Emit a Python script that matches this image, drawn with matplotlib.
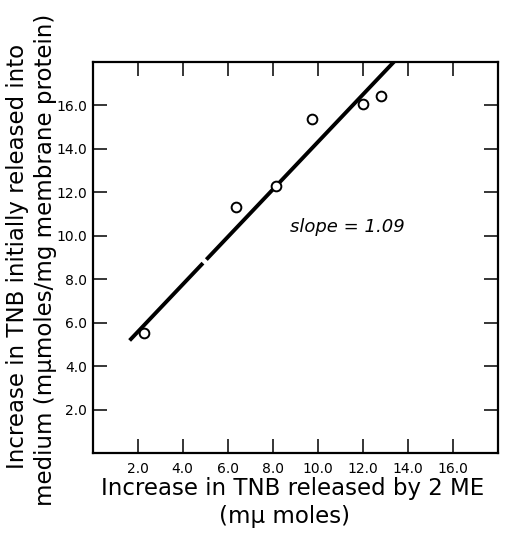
import matplotlib
matplotlib.use("Agg")
import matplotlib.pyplot as plt

# Data
tnb_2me = [2.3, 6.35, 8.15, 9.75, 12.0, 12.8]
tnb_medium = [5.55, 11.3, 12.3, 15.35, 16.05, 16.4]

# fitted line (slope = 1.09), drawn in two pieces because of the small print gap
slope = 1.09
intercept = 3.40
fit_pieces = [(1.64, 4.9), (5.05, 13.4)]

ticks = [2.0, 4.0, 6.0, 8.0, 10.0, 12.0, 14.0, 16.0]
tick_labels = ["2.0", "4.0", "6.0", "8.0", "10.0", "12.0", "14.0", "16.0"]

fig = plt.figure(figsize=(5.08, 5.43), dpi=100)
ax = fig.add_axes([0.1825, 0.1652, 0.7972, 0.7212])

for x0, x1 in fit_pieces:
    ax.plot([x0, x1], [slope * x0 + intercept, slope * x1 + intercept],
            color="black", linewidth=2.8, solid_capstyle="butt")

ax.plot(tnb_2me, tnb_medium, linestyle="none", marker="o", markersize=7,
        markerfacecolor="white", markeredgecolor="black", markeredgewidth=1.4, zorder=3)

ax.text(11.3, 10.4, "slope = 1.09", fontsize=13, style="italic", ha="center", va="center")

ax.set_xlim(0, 18)
ax.set_ylim(0, 18)
ax.set_xticks(ticks)
ax.set_xticklabels(tick_labels)
ax.set_yticks(ticks)
ax.set_yticklabels(tick_labels)
ax.tick_params(direction="in", length=10, width=1.1, labelsize=10,
               top=True, right=True, pad=6)
ax.tick_params(axis="y", pad=4)
for s in ax.spines.values():
    s.set_linewidth(1.6)

fig.text(0.034, 0.527, "Increase in TNB initially released into", rotation=90,
         fontsize=16.5, ha="center", va="center")
fig.text(0.089, 0.522, "medium (m\u03bcmoles/mg membrane protein)", rotation=90,
         fontsize=16.5, ha="center", va="center")
fig.text(0.576, 0.100, "Increase in TNB released by 2 ME", fontsize=16.5,
         ha="center", va="center")
fig.text(0.561, 0.048, "(m\u03bc moles)", fontsize=16.5, ha="center", va="center")

fig.savefig("out.png", dpi=100)
